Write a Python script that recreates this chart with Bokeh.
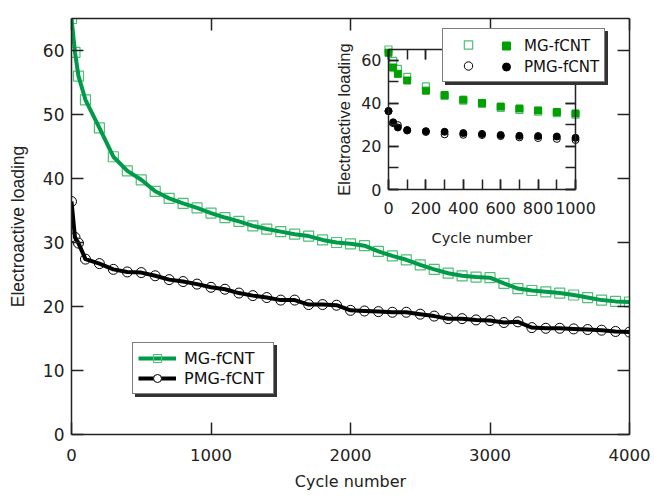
from bokeh.plotting import figure
from bokeh.models import Range1d, LinearAxis, SingleIntervalTicker, Legend, LegendItem
from bokeh.embed import file_html
from bokeh.resources import INLINE

# ---------------- data ----------------
cycles = [0, 25, 50, 100, 200, 300, 400, 500, 600, 700, 800, 900, 1000,
          1100, 1200, 1300, 1400, 1500, 1600, 1700, 1800, 1900, 2000,
          2100, 2200, 2300, 2400, 2500, 2600, 2700, 2800, 2900, 3000,
          3100, 3200, 3300, 3400, 3500, 3600, 3700, 3800, 3900, 4000]
mg_loading = [65.0, 59.7, 56.0, 52.3, 47.9, 43.4, 41.2, 39.8, 38.0, 36.9, 36.1, 35.4, 34.6,
              33.9, 33.3, 32.6, 32.1, 31.7, 31.3, 31.0, 30.4, 30.0, 29.8,
              29.5, 28.6, 27.9, 27.3, 26.5, 25.8, 25.2, 24.8, 24.6, 24.5,
              23.6, 22.8, 22.5, 22.3, 22.1, 21.8, 21.4, 21.0, 20.8, 20.7]
pmg_loading = [36.4, 30.8, 29.9, 27.4, 26.7, 25.8, 25.4, 25.3, 24.8, 24.2, 23.9, 23.5, 23.0,
               22.7, 22.1, 21.7, 21.4, 21.0, 21.0, 20.3, 20.3, 20.2, 19.4,
               19.3, 19.2, 19.1, 19.1, 18.8, 18.5, 18.1, 18.1, 17.9, 17.8,
               17.5, 17.6, 16.7, 16.6, 16.6, 16.5, 16.4, 16.3, 16.1, 16.0]

inset_cycles = [0, 25, 50, 100, 200, 300, 400, 500, 600, 700, 800, 900, 1000]
mg_open = [65.0, 59.7, 56.0, 52.3, 47.9, 43.4, 41.2, 39.8, 37.9, 36.9, 36.1, 35.5, 34.7]
mg_filled = [63.5, 56.6, 53.7, 50.6, 45.9, 43.9, 41.7, 40.2, 38.5, 37.6, 36.7, 36.0, 35.3]
pmg_open = [36.4, 30.8, 29.9, 27.4, 26.7, 25.6, 25.4, 25.3, 24.8, 24.2, 23.9, 23.5, 23.0]
pmg_filled = [36.4, 31.2, 28.8, 27.6, 27.1, 26.8, 26.2, 25.8, 25.3, 24.9, 24.8, 24.6, 24.0]

series_labels = ["MG-fCNT", "PMG-fCNT"]
x_label = "Cycle number"
y_label = "Electroactive loading"

GREEN = "#009b48"
LIGHT_GREEN = "#50bf76"
FILL_GREEN = "#00a000"
AXIS = "#222222"

# ---------------- layout geometry (pixels inside the figure) ----------------
W, H = 654, 495
FL, FR, FT, FB = 71, 629, 18, 434          # main frame edges
IL, IR, IT, IB = 388, 575, 49, 189         # inset frame edges
X_MAX, Y_MAX = 4000, 65
IX_MAX, IY_MAX = 1000, 65

# inset ranges expressed over the whole main frame
ixs = IX_MAX / (IR - IL)
iys = IY_MAX / (IB - IT)
ix_range = Range1d(-(IL - FL) * ixs, IX_MAX + (FR - IR) * ixs)
iy_range = Range1d(-(FB - IB) * iys, IY_MAX + (IT - FT) * iys)


def style_axis(ax, tick_in, label_font=None, label_size=None, tick_size=None,
               standoff=0, label_standoff=0, show_labels=True):
    ax.axis_line_color = AXIS
    ax.axis_line_width = 1.5
    ax.major_tick_line_color = AXIS
    ax.major_tick_line_width = 1.5
    ax.minor_tick_line_color = AXIS
    ax.minor_tick_line_width = 1.5
    ax.major_tick_in = tick_in
    ax.major_tick_out = 0
    ax.minor_tick_in = tick_in
    ax.minor_tick_out = 0
    if show_labels:
        ax.major_label_text_font = "DejaVu Sans"
        ax.major_label_text_font_size = tick_size
        ax.major_label_text_color = "#222222"
        ax.major_label_standoff = standoff
        ax.axis_label_text_font = label_font
        ax.axis_label_text_font_size = label_size
        ax.axis_label_text_font_style = "normal"
        ax.axis_label_text_color = "#222222"
        ax.axis_label_standoff = label_standoff
    else:
        ax.major_label_text_font_size = "0px"
        ax.major_label_text_color = None
        ax.major_label_standoff = 0
        ax.axis_label = None


# ---------------- main figure ----------------
p = figure(width=W, height=H, x_range=Range1d(0, X_MAX), y_range=Range1d(0, Y_MAX),
           output_backend="svg", toolbar_location=None,
           min_border_left=FL, min_border_right=W - FR, min_border_top=FT, min_border_bottom=H - FB,
           x_axis_label=x_label, y_axis_label=y_label)
p.extra_x_ranges = {"ix": ix_range}
p.extra_y_ranges = {"iy": iy_range}
p.grid.visible = False
p.outline_line_color = None
p.background_fill_color = "white"
p.border_fill_color = "white"

p.xaxis.ticker = SingleIntervalTicker(interval=1000, num_minor_ticks=0)
p.yaxis.ticker = SingleIntervalTicker(interval=10, num_minor_ticks=0)
style_axis(p.xaxis[0], 12, "DejaVu Sans", "16px", "16.5px", 14, 8)
style_axis(p.yaxis[0], 12, "Liberation Sans", "17.5px", "17px", 7, 12)

top_ax = LinearAxis(ticker=SingleIntervalTicker(interval=1000, num_minor_ticks=0))
right_ax = LinearAxis(ticker=SingleIntervalTicker(interval=10, num_minor_ticks=0))
style_axis(top_ax, 12, show_labels=False)
style_axis(right_ax, 12, show_labels=False)
p.add_layout(top_ax, "above")
p.add_layout(right_ax, "right")

mg_sq = p.scatter(cycles, mg_loading, marker="square", size=10, line_color=LIGHT_GREEN,
                  fill_color=None, line_width=1.2)
pmg_c = p.scatter(cycles, pmg_loading, marker="circle", size=10, line_color="black",
                  fill_color="white", line_width=1)
mg_line = p.line(cycles, mg_loading, line_color=GREEN, line_width=4, line_join="round")
pmg_line = p.line(cycles, pmg_loading, line_color="black", line_width=4, line_join="round")

legend_common = dict(orientation="vertical", padding=5, spacing=0, margin=0,
                     glyph_width=38, glyph_height=20, label_height=20, label_width=84,
                     label_standoff=8, label_text_font="DejaVu Sans", label_text_font_size="16px",
                     label_text_color="#111111", border_line_width=1.5)
shadow = Legend(items=[LegendItem(label=" ", renderers=[mg_line]),
                       LegendItem(label=" ", renderers=[pmg_line])],
                location=(64, 37), border_line_color="#333333",
                background_fill_color="#333333", background_fill_alpha=1, **legend_common)
main_leg = Legend(items=[LegendItem(label=series_labels[0], renderers=[mg_line, mg_sq]),
                         LegendItem(label=series_labels[1], renderers=[pmg_line, pmg_c])],
                  location=(61, 40), border_line_color="black",
                  background_fill_color="white", background_fill_alpha=1, **legend_common)
p.add_layout(shadow, "center")
p.add_layout(main_leg, "center")

# ---------------- inset (drawn inside the main frame on its own ranges) ----------------
rng = dict(x_range_name="ix", y_range_name="iy")
in_left = LinearAxis(fixed_location=0, bounds=(0, IY_MAX),
                     ticker=SingleIntervalTicker(interval=20, num_minor_ticks=2),
                     axis_label=y_label, **rng)
in_below = LinearAxis(fixed_location=0, bounds=(0, IX_MAX),
                      ticker=SingleIntervalTicker(interval=200, num_minor_ticks=2),
                      axis_label=x_label, **rng)
in_right = LinearAxis(fixed_location=IX_MAX, bounds=(0, IY_MAX),
                      ticker=SingleIntervalTicker(interval=20, num_minor_ticks=2), **rng)
in_above = LinearAxis(fixed_location=IY_MAX, bounds=(0, IX_MAX),
                      ticker=SingleIntervalTicker(interval=200, num_minor_ticks=2), **rng)
style_axis(in_left, 10, "Liberation Sans", "16.5px", "16px", 7, 5)
style_axis(in_below, 10, "DejaVu Sans", "14.5px", "16px", 12, 13)
style_axis(in_right, 10, show_labels=False)
style_axis(in_above, 10, show_labels=False)
p.add_layout(in_left, "left")
p.add_layout(in_below, "below")
p.add_layout(in_right, "right")
p.add_layout(in_above, "above")

mg_o = p.scatter(inset_cycles, mg_open, marker="square", size=7, line_color=LIGHT_GREEN,
                 fill_color="white", line_width=1.2, **rng)
pmg_o = p.scatter(inset_cycles, pmg_open, marker="circle", size=7, line_color="black",
                  fill_color="white", line_width=1, **rng)
mg_f = p.scatter(inset_cycles, mg_filled, marker="square", size=7, line_color=FILL_GREEN,
                 fill_color=FILL_GREEN, line_width=1, **rng)
pmg_f = p.scatter(inset_cycles, pmg_filled, marker="circle", size=7, line_color="black",
                  fill_color="black", line_width=1, **rng)

inset_box = dict(orientation="vertical", padding=5, spacing=0, margin=0,
                 glyph_width=40, glyph_height=21, label_height=21, label_width=103,
                 label_standoff=8, label_text_font="DejaVu Sans", label_text_font_size="15px",
                 border_line_width=1.5)
q_shadow = Legend(items=[LegendItem(label=" ", renderers=[mg_o]),
                         LegendItem(label=" ", renderers=[pmg_o])],
                  location=(374, 349), border_line_color="#333333",
                  background_fill_color="#333333", background_fill_alpha=1, **inset_box)
q_box = Legend(items=[LegendItem(label=" ", renderers=[mg_o]),
                      LegendItem(label=" ", renderers=[pmg_o])],
               location=(371, 352), border_line_color="black",
               background_fill_color="white", background_fill_alpha=1, **inset_box)
q_text = Legend(items=[LegendItem(label=series_labels[0], renderers=[mg_f]),
                       LegendItem(label=series_labels[1], renderers=[pmg_f])],
                location=(425, 357), orientation="vertical", padding=0, spacing=0, margin=0,
                glyph_width=20, glyph_height=21, label_height=21, label_standoff=8,
                label_text_font="DejaVu Sans", label_text_font_size="15px",
                label_text_color="#111111", border_line_color=None, background_fill_alpha=0)
p.add_layout(q_shadow, "center")
p.add_layout(q_box, "center")
p.add_layout(q_text, "center")

open("out.html", "w").write(file_html(p, INLINE))
